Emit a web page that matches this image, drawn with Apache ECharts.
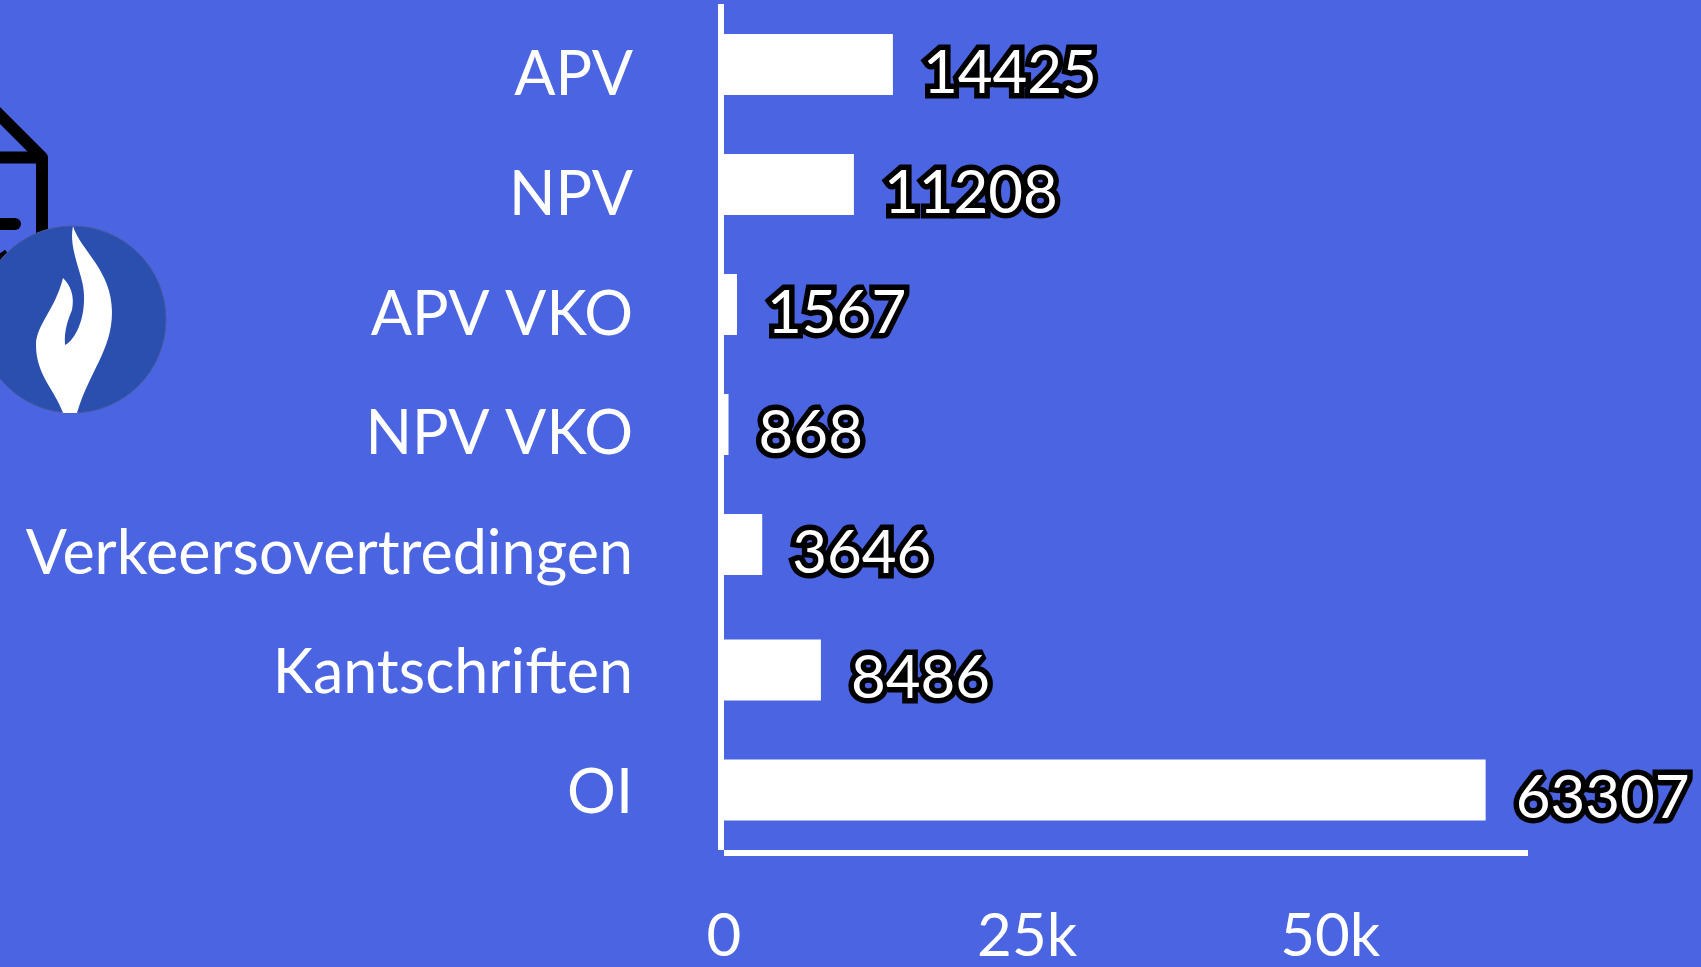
<!DOCTYPE html>
<html>
<head>
<meta charset="utf-8">
<title>Chart</title>
<script src="https://cdn.jsdelivr.net/npm/echarts@6/dist/echarts.min.js"></script>
<style>
  html, body { margin: 0; padding: 0; background: #4b64e2; }
  #chart { width: 1701px; height: 967px; }
</style>
</head>
<body>
<div id="chart"></div>
<script>
const categories = ['APV', 'NPV', 'APV VKO', 'NPV VKO', 'Verkeersovertredingen', 'Kantschriften', 'OI']
const values = [14425, 11208, 1567, 868, 3646, 8486, 63307]
const axisMax = 66800
const tickStep = 25000

// rows 6 and 7 sit a few px lower in the original, so they get their own grid
const upperValues = values.map((v, i) => (i < 5 ? v : null))
const lowerValues = values.map((v, i) => (i >= 5 ? v : null))

const font = 'Lato'
const white = '#ffffff'

echarts.graphic.registerShape('flame', echarts.graphic.extendPath(
  'M73 226 C80 250 112 270 112 312 C112 350 90 370 77 413 L63 413 C55 390 36 375 36 345 C36 325 55 310 63 278 C70 285 75 295 72 310 C68 320 64 330 65 345 C75 340 85 320 84 295 C84 275 68 250 73 226 Z',
  {}
))

const hiddenX = (gridIndex) => ({
  type: 'value', gridIndex, min: 0, max: axisMax, interval: tickStep, show: false
})
const hiddenY = (gridIndex) => ({
  type: 'category', gridIndex, data: categories, inverse: true, show: false
})
const barSeries = (name, data, axisIndex) => ({
  name,
  type: 'bar',
  xAxisIndex: axisIndex,
  yAxisIndex: axisIndex,
  data,
  barWidth: 61,
  itemStyle: { color: white },
  label: {
    show: true,
    position: 'right',
    distance: 30,
    offset: [0, 9],
    fontFamily: font,
    fontSize: 60,
    color: white,
    textBorderColor: '#000000',
    textBorderWidth: 11
  }
})

const option = {
  backgroundColor: '#4b64e2',
  animation: false,
  grid: [
    { left: 718, top: 16, width: 810, height: 840 },  // labels
    { left: 718, top: 4.5, width: 810, height: 840 }, // bars 1-5
    { left: 718, top: 10, width: 810, height: 840 },  // bars 6-7
    { left: 724, top: 4, width: 804, height: 846 }    // axis lines
  ],
  xAxis: [
    {
      type: 'value',
      gridIndex: 0,
      min: 0,
      max: axisMax,
      interval: tickStep,
      axisLine: { show: false },
      axisTick: { show: false },
      splitLine: { show: false },
      axisLabel: {
        margin: 54,
        padding: [0, 0, 0, 12],
        fontFamily: font,
        fontSize: 60,
        color: white,
        formatter: (v) => (v === axisMax ? '' : v === 0 ? '0' : v / 1000 + 'k')
      }
    },
    hiddenX(1),
    hiddenX(2),
    {
      type: 'value',
      gridIndex: 3,
      min: 0,
      max: 1,
      offset: 3,
      axisLine: { show: true, onZero: false, lineStyle: { color: white, width: 6, cap: 'butt' } },
      axisTick: { show: false },
      axisLabel: { show: false },
      splitLine: { show: false }
    }
  ],
  yAxis: [
    {
      type: 'category',
      gridIndex: 0,
      data: categories,
      inverse: true,
      axisLine: { show: false },
      axisTick: { show: false },
      axisLabel: {
        margin: 85,
        fontFamily: font,
        fontSize: 61,
        color: white
      }
    },
    hiddenY(1),
    hiddenY(2),
    {
      type: 'category',
      gridIndex: 3,
      data: categories,
      inverse: true,
      offset: 3,
      axisLine: { show: true, onZero: false, lineStyle: { color: white, width: 6, cap: 'butt' } },
      axisTick: { show: false },
      axisLabel: { show: false }
    }
  ],
  series: [
    barSeries('upper', upperValues, 1),
    barSeries('lower', lowerValues, 2)
  ],
  graphic: [
    // house icon, cut off by the left edge
    {
      type: 'polyline',
      shape: { points: [[-4, 111.5], [42, 157.5], [42, 240]] },
      style: { stroke: '#000000', lineWidth: 12, fill: null, lineJoin: 'round' }
    },
    {
      type: 'line',
      shape: { x1: -4, y1: 157.5, x2: 42, y2: 157.5 },
      style: { stroke: '#000000', lineWidth: 12 }
    },
    {
      type: 'line',
      shape: { x1: -4, y1: 224, x2: 15, y2: 224 },
      style: { stroke: '#000000', lineWidth: 12, lineCap: 'round' }
    },
    {
      type: 'line',
      shape: { x1: -4, y1: 262, x2: 8, y2: 254 },
      style: { stroke: '#000000', lineWidth: 10 }
    },
    // flame badge
    {
      type: 'circle',
      shape: { cx: 72.5, cy: 319.5, r: 93.5 },
      style: { fill: '#2a4fae', stroke: '#4a5a9e', lineWidth: 1 }
    },
    {
      type: 'flame',
      style: { fill: white }
    }
  ]
}

const chart = echarts.init(document.getElementById('chart'))
chart.setOption(option)
</script>
</body>
</html>
